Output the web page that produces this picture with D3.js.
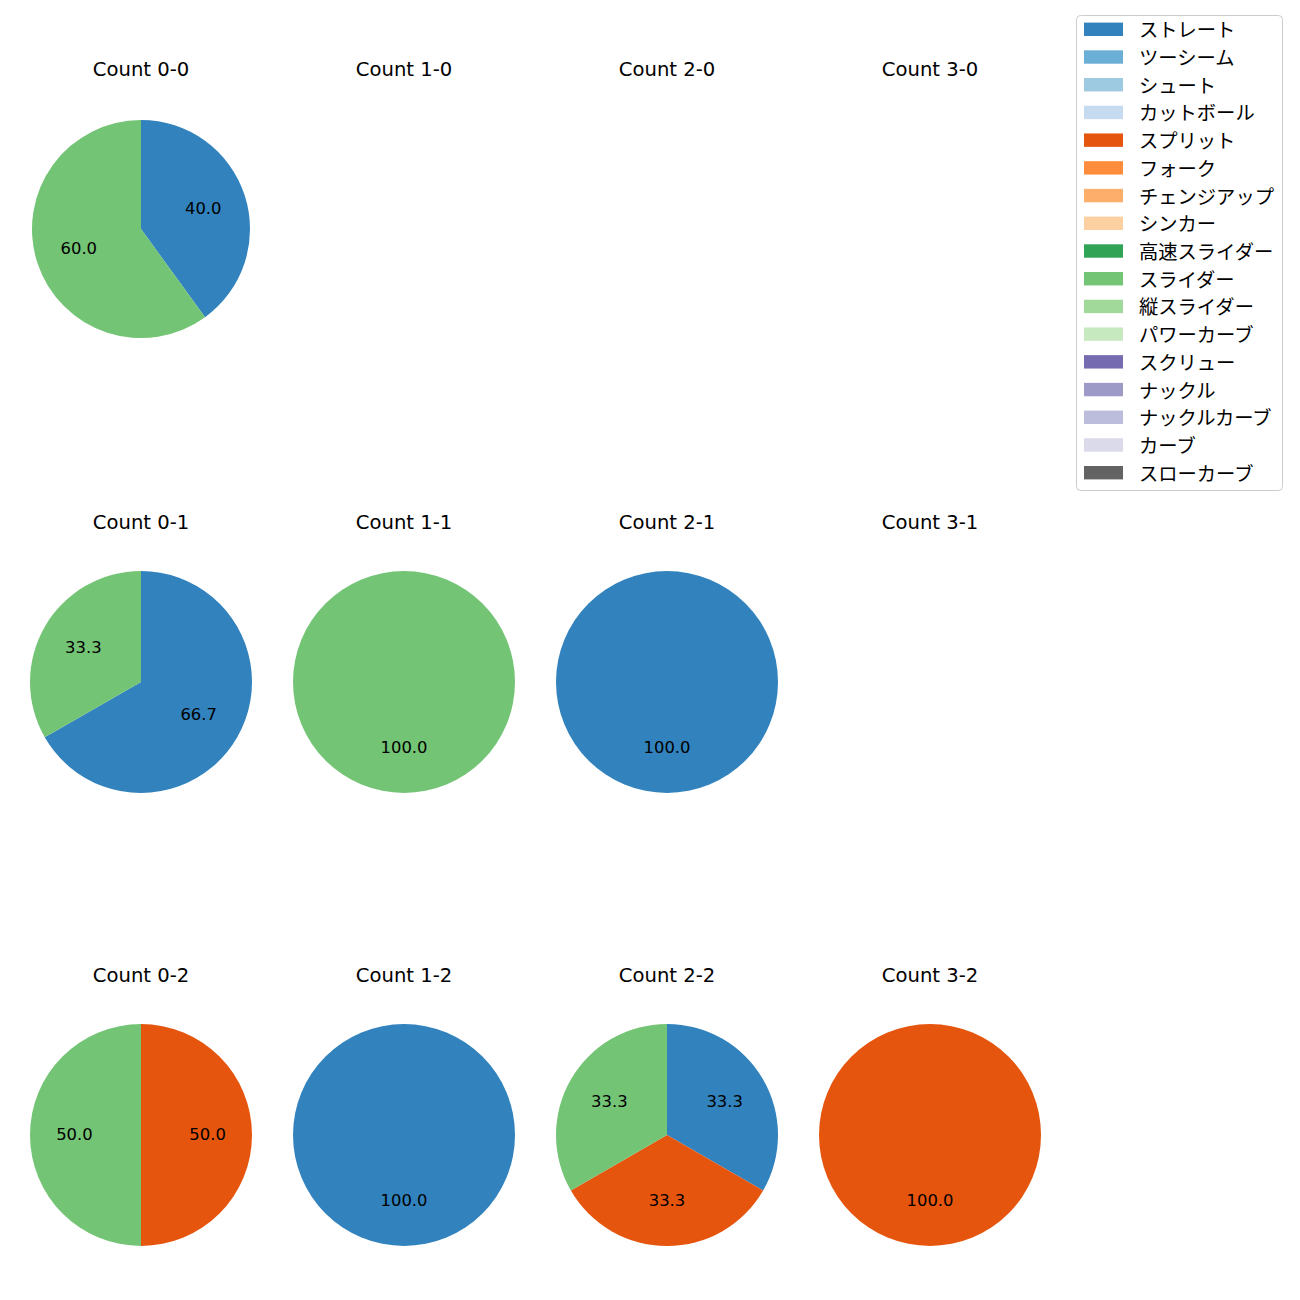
<!DOCTYPE html>
<html>
<head>
<meta charset="utf-8">
<script src="https://cdn.jsdelivr.net/npm/d3@7"></script>
<style>
  html, body { margin: 0; padding: 0; background: #fff; }
  svg { display: block; }
  text { font-family: "DejaVu Sans", "Noto Sans CJK JP", sans-serif; fill: #000; }
  text.leg { font-family: "Noto Sans CJK JP", "DejaVu Sans", sans-serif; }
</style>
</head>
<body>
<svg id="chart" width="1300" height="1300"></svg>
<script>
// ---- data ----
const pitchTypes = ["ストレート","ツーシーム","シュート","カットボール","スプリット","フォーク","チェンジアップ","シンカー","高速スライダー","スライダー","縦スライダー","パワーカーブ","スクリュー","ナックル","ナックルカーブ","カーブ","スローカーブ"];
const pitchColors = ["#3182bd","#6baed6","#9ecae1","#c6dbef","#e6550d","#fd8d3c","#fdae6b","#fdd0a2","#31a354","#74c476","#a1d99b","#c7e9c0","#756bb1","#9e9ac8","#bcbddc","#dadaeb","#636363"];
// panels in order: row (strikes) 0..2, column (balls) 0..3
const panelTitles = ["Count 0-0","Count 1-0","Count 2-0","Count 3-0",
                     "Count 0-1","Count 1-1","Count 2-1","Count 3-1",
                     "Count 0-2","Count 1-2","Count 2-2","Count 3-2"];
// percentage share per pitch type in each panel (only types that occur)
const straightPct = [40, 0, 0, 0,   66.7, 0, 100, 0,   0, 100, 33.3, 0];
const splitPct    = [0, 0, 0, 0,    0, 0, 0, 0,        50, 0, 33.3, 100];
const sliderPct   = [60, 0, 0, 0,   33.3, 100, 0, 0,   50, 0, 33.3, 0];
const seriesByType = { "ストレート": straightPct, "スプリット": splitPct, "スライダー": sliderPct };

// ---- layout ----
const svg = d3.select("#chart");
const colScale = d3.scalePoint().domain([0,1,2,3]).range([141, 930]);
const rowScale = d3.scalePoint().domain([0,1,2]).range([229, 1135]);
const rowRadius = [109, 111, 111];
const color = d3.scaleOrdinal().domain(pitchTypes).range(pitchColors);
const fmt = d3.format(".1f");

panelTitles.forEach((title, i) => {
  const row = Math.floor(i / 4), col = i % 4;
  const cx = colScale(col), cy = rowScale(row);
  const r = rowRadius[row];
  const g = svg.append("g").attr("transform", `translate(${cx},${cy})`);

  g.append("text")
    .attr("x", 0).attr("y", -153.5)
    .attr("text-anchor", "middle")
    .attr("font-size", 19.6)
    .text(title);

  const slices = pitchTypes
    .map(t => ({ type: t, value: seriesByType[t] ? seriesByType[t][i] : 0 }))
    .filter(d => d.value > 0);
  if (!slices.length) return;
  const total = d3.sum(slices, d => d.value);

  const pie = d3.pie().sort(null).value(d => d.value).startAngle(0).endAngle(2 * Math.PI);
  const arcs = pie(slices);
  const arc = d3.arc().innerRadius(0).outerRadius(r);
  const labelArc = d3.arc().innerRadius(r * 0.6).outerRadius(r * 0.6);

  g.selectAll("path.w").data(arcs).join("path")
    .attr("class", "w")
    .attr("d", arc)
    .attr("fill", d => color(d.data.type));

  g.selectAll("text.pct").data(arcs).join("text")
    .attr("class", "pct")
    .attr("transform", d => `translate(${labelArc.centroid(d)})`)
    .attr("y", 4.8)
    .attr("text-anchor", "middle")
    .attr("font-size", 16.4)
    .text(d => fmt(d.value / total * 100));
});

// ---- legend ----
const legend = svg.append("g");
legend.append("rect")
  .attr("x", 1076.5).attr("y", 15.5).attr("width", 206).attr("height", 475)
  .attr("rx", 4).attr("ry", 4)
  .attr("fill", "#fff").attr("fill-opacity", 0.8)
  .attr("stroke", "#cccccc").attr("stroke-width", 1);
const legY = d3.scalePoint().domain(pitchTypes).range([29.3, 472.7]);
pitchTypes.forEach(t => {
  const y = legY(t);
  legend.append("rect")
    .attr("x", 1084).attr("y", y - 6.7).attr("width", 39).attr("height", 13.4)
    .attr("fill", color(t));
  legend.append("text")
    .attr("class", "leg")
    .attr("x", 1139).attr("y", y)
    .attr("dominant-baseline", "central")
    .attr("font-size", 19.3)
    .text(t);
});
</script>
</body>
</html>
